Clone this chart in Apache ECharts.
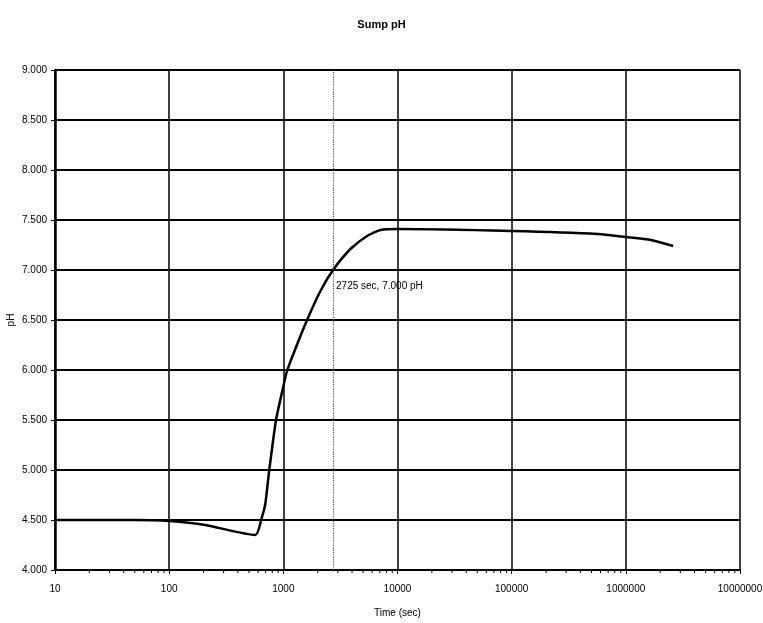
<!DOCTYPE html>
<html>
<head>
<meta charset="utf-8">
<script src="https://cdn.jsdelivr.net/npm/echarts@6/dist/echarts.min.js"></script>
<style>
  html, body { margin: 0; padding: 0; background: #fff; }
  #chart { width: 763px; height: 623px; }
</style>
</head>
<body>
<div id="chart"></div>
<script>
// time in seconds, pH
var timeSec = [10, 50, 100, 207, 568, 650, 695, 753, 863, 975, 1077, 1273, 1614, 2113, 2725, 3872, 5420, 7100, 10000, 100000, 570000, 1000000, 1660000, 2600000];
var sumpPh  = [4.50, 4.50, 4.49, 4.45, 4.35, 4.53, 4.66, 5.00, 5.50, 5.78, 5.99, 6.21, 6.50, 6.79, 7.00, 7.21, 7.34, 7.40, 7.41, 7.39, 7.36, 7.33, 7.30, 7.24];

// marked point
var markTime = 2725;
var markPh = 7.0;

// log minor ticks on the time axis
var minorTicks = [];
[10, 100, 1000, 10000, 100000, 1000000].forEach(function (dec) {
    for (var k = 2; k <= 9; k++) minorTicks.push(dec * k);
});

var font = "'Liberation Sans Narrow', 'Liberation Sans', Arial, sans-serif";

var chart = echarts.init(document.getElementById('chart'));

chart.setOption({
    animation: false,
    backgroundColor: '#fff',
    title: {
        text: 'Sump pH',
        left: 'center',
        top: 14,
        textStyle: { fontFamily: font, fontSize: 11, fontWeight: 'bold', color: '#000' }
    },
    grid: { left: 55, right: 23, top: 70, bottom: 53, outerBoundsMode: 'none' },
    xAxis: {
        type: 'log',
        logBase: 10,
        min: 10,
        max: 10000000,
        name: 'Time (sec)',
        nameLocation: 'middle',
        nameGap: 38,
        nameTextStyle: { fontFamily: font, fontSize: 10, color: '#000' },
        axisLine: { show: true, lineStyle: { color: '#000', width: 1.5 } },
        axisTick: { show: true, length: 4, lineStyle: { color: '#000' } },
        axisLabel: {
            margin: 14,
            fontFamily: font,
            fontSize: 10,
            color: '#000',
            formatter: function (v) { return String(Math.round(v)); }
        },
        splitLine: { show: true, lineStyle: { color: '#000', width: 1.5 } }
    },
    yAxis: {
        type: 'value',
        min: 4,
        max: 9,
        interval: 0.5,
        name: 'pH',
        nameLocation: 'middle',
        nameGap: 39,
        nameMoveOverlap: false,
        nameRotate: 90,
        nameTextStyle: { fontFamily: font, fontSize: 10, color: '#000' },
        axisLine: { show: true, lineStyle: { color: '#000', width: 2.5 } },
        axisTick: { show: true, length: 4, lineStyle: { color: '#000' } },
        axisLabel: {
            margin: 8,
            fontFamily: font,
            fontSize: 10,
            color: '#000',
            formatter: function (v) { return v.toFixed(3); }
        },
        splitLine: { show: true, lineStyle: { color: '#000', width: 2 } }
    },
    series: [
        {
            type: 'line',
            data: timeSec.map(function (t, i) { return [t, sumpPh[i]]; }),
            showSymbol: false,
            smooth: 0.2,
            lineStyle: { color: '#000', width: 2.5 },
            markLine: {
                silent: true,
                symbol: 'none',
                label: { show: false },
                lineStyle: { color: '#555', type: 'dotted', width: 1.2 },
                data: [{ xAxis: markTime }]
            },
            markPoint: {
                symbol: 'circle',
                symbolSize: 0,
                data: [{ coord: [markTime, markPh] }],
                label: {
                    show: true,
                    position: 'right',
                    offset: [-2, 16],
                    fontFamily: font,
                    fontSize: 10,
                    color: '#000',
                    formatter: markTime + ' sec, ' + markPh.toFixed(3) + ' pH'
                }
            }
        },
        {
            type: 'custom',
            silent: true,
            data: minorTicks.map(function (t) { return [t, 4]; }),
            renderItem: function (params, api) {
                var p = api.coord([api.value(0), api.value(1)]);
                return {
                    type: 'line',
                    shape: { x1: p[0], y1: p[1], x2: p[0], y2: p[1] + 3 },
                    style: { stroke: '#000', lineWidth: 1 }
                };
            },
            clip: false,
            z: 3
        }
    ]
});
</script>
</body>
</html>
